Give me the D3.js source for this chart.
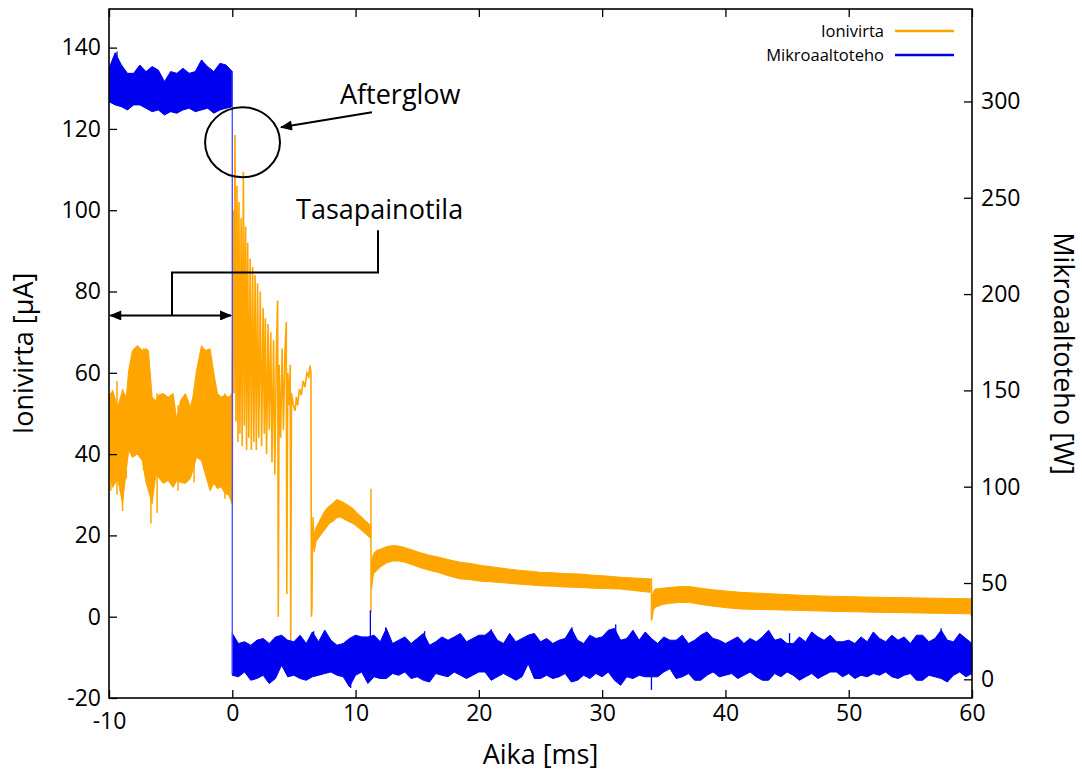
<!DOCTYPE html>
<html lang="fi">
<head>
<meta charset="utf-8">
<title>Ionivirta ja mikroaaltoteho</title>
<script src="https://cdnjs.cloudflare.com/ajax/libs/d3/7.8.5/d3.min.js"></script>
<style>
body{margin:0;background:#fff;}
svg text{font-family:"Open Sans","Noto Sans",sans-serif;fill:#000;}
</style>
</head>
<body>
<div id="chart"></div>
<script>
// tick values
var xTicks = [-10,0,10,20,30,40,50,60]
var leftTicks = [-20,0,20,40,60,80,100,120,140]
var rightTicks = [0,50,100,150,200,250,300]

// ion current before switch-off (ms, uA) : envelope of the noisy band
var orangePreT  = [-10,-9.7,-9.3,-8.9,-8.6,-8.4,-8.1,-7.7,-7.3,-7.0,-6.8,-6.5,-6.2,-6.0,-5.6,-5.2,-4.8,-4.5,-4.2,-3.8,-3.4,-3.2,-2.9,-2.5,-2.2,-1.8,-1.5,-1.2,-0.9,-0.6,-0.3,0]
var orangePreHi = [54,55.7,51.6,55.7,54,60.6,65.5,66.7,65.5,65.9,65.5,54,53.2,54.5,54.9,54,54.9,48.3,53.2,54.9,51.6,54,60.6,66.7,65.5,65.9,60,54.9,54,54.5,54,54.9]
var orangePreLo = [35.2,31.8,34,27.8,36,40.9,39.2,40,38.4,33,31,27.8,35,34.3,32.8,33.5,31.8,33.5,33,32.8,34,36,39.2,38.4,35.2,31,32.8,31.5,32,30.3,30,27.8]

// afterglow oscillation, drawn as a line
var orangeBurstT = [0,0.02,0.08,0.14,0.22,0.30,0.38,0.46,0.54,0.62,0.72,0.80,0.90,0.98,1.08,1.16,1.25,1.34,1.45,1.55,1.65,1.75,1.85,1.95,2.05,2.15,2.27,2.38,2.5,2.6,2.68,2.78,2.9,3.0,3.12,3.22,3.35,3.45,3.58,3.68,3.73,3.8,3.92,4.04,4.15,4.27,4.38,4.42,4.5,4.62,4.7,4.74,4.8,4.95,5.1,5.2,5.3,5.45,5.6,5.75,5.9,6.05,6.2,6.3,6.38,6.42,6.46,6.5]
var orangeBurstV = [27.8,60,100,55,118.5,48,106,43,102,45,98,42,109.4,47,96,41,92,44,88,41,86,43,84,41,82,44,80,42,76,45,73.4,40,72,46,70,38,68,35,66,77.8,0,62,44,66,46,65,72.5,5.6,60,52,62,-5.9,55,52,50.7,54,52,56,54.5,58,56.5,60,59,61.8,60,0,2.3,19]

// ion current decay band, null = break for a spike
var orangeBandT  = [6.5,6.55,6.65,6.8,6.95,7.15,7.4,7.65,7.9,8.2,8.45,8.7,8.95,9.2,9.5,9.8,10.1,10.5,10.8,11.1,11.22,11.25,
  11.3,11.45,11.7,12.0,12.5,13.0,13.5,14.0,14.6,15.2,16.0,16.8,17.6,18.5,19.3,20.2,21.0,21.7,22.5,23.3,24.2,25.0,26.0,27.0,28.2,29.3,30.4,31.5,32.7,33.9,34.0,
  34.05,34.15,34.3,34.9,35.5,36.3,37.1,38.0,39.0,40.1,41.2,42.6,44.0,45.3,46.6,47.8,49.0,50.5,52.0,54.0,56.0,58.0,60.0]
var orangeBandHi = [21,24.5,20,22,22.8,24,25.5,26.6,27.3,28,28.8,28.6,28.2,27.8,27.2,26.6,25.6,24.5,23.6,22.8,22.4,null,
  13.5,15.5,16.3,16.6,17.2,17.5,17.4,17.0,16.4,15.8,15.1,14.6,14.0,13.4,13.1,12.6,12.3,12.0,11.7,11.4,11.2,10.9,10.8,10.6,10.5,10.2,10.0,9.7,9.5,9.3,null,
  5.0,6.0,6.8,7.0,7.2,7.4,7.4,7.0,6.6,6.3,6.0,5.8,5.6,5.4,5.2,5.1,5.0,4.9,4.8,4.7,4.6,4.5,4.4]
var orangeBandLo = [15,18,16,18.5,19.2,20,21,22,23,23.5,24.3,24.5,24.2,23.8,23.3,22.9,22.2,21.2,20.4,19.6,19.2,null,
  7,10.5,11.3,12.2,13.2,13.7,13.7,13.4,12.8,12.1,11.4,10.8,10.0,9.3,9.1,8.7,8.6,8.4,8.2,8.0,7.8,7.6,7.5,7.3,7.2,7.0,6.9,6.8,6.4,6.0,null,
  -0.5,1.5,2.3,3.0,3.3,3.5,3.5,3.0,2.6,2.2,1.9,1.8,1.7,1.6,1.5,1.4,1.3,1.2,1.1,1.0,0.9,0.8,0.7]

// single spikes (ms, low, high)
var orangeSpikeT  = [-9.85,-9.35,-8.9,-8.6,-7.2,-6.6,-6.1,-4.4,-3.1,-0.6,-0.05,11.25,34.0,59.95]
var orangeSpikeLo = [31,30,26,34,36,22.9,25.6,31,33,29,27.8,1.0,-1.0,0]
var orangeSpikeHi = [55,58,56,54,66,40,55,52,54,55,55,31.5,9.5,4.5]

// microwave power (W), sampled every 0.5 ms
var bluePreStart = -10
var bluePreHi = [317.2,325.3,319,314.6,314.6,318.9,315.5,318.1,316.3,310.3,315.5,314.6,317.2,314.6,315.5,321.5,318.1,315.5,319.8,318.9,315.5]
var bluePreLo = [299.9,298.2,297.3,295.6,298.2,298.2,296.5,294.7,295.6,293.0,294.7,293.9,295.6,296.5,294.7,295.6,296.5,293.9,295.6,296.5,297.3]
var bluePostStart = 0
var bluePostHi = [23.8,18.6,19.5,17.7,20.3,21.2,18.6,22.0,22.9,20.3,
  19.5,22.9,18.6,24.6,19.5,25.5,20.3,17.7,18.6,21.2,
  22.9,22.0,22.0,22.9,19.5,26.4,18.6,20.3,22.0,18.6,
  21.2,23.8,17.7,19.5,22.0,20.3,22.0,23.8,19.5,21.2,
  22.9,22.9,25.5,20.3,18.6,23.8,19.5,21.2,22.9,23.8,
  19.5,21.2,18.6,20.3,21.2,26.4,20.3,18.6,22.9,21.2,
  22.0,25.5,26.4,20.3,21.2,25.5,20.3,
  24.6,21.2,18.6,22.0,20.3,20.3,22.9,18.6,20.3,22.9,
  24.6,21.2,20.3,18.6,20.3,22.0,18.6,21.2,19.5,22.0,
  25.5,20.3,21.2,18.6,18.6,22.0,19.5,24.6,22.0,20.3,
  22.9,19.5,19.5,20.3,18.6,22.0,19.5,24.6,21.2,19.5,
  22.9,20.3,22.0,18.6,22.9,22.9,19.5,21.2,25.5,20.3,
  19.5,23.8,21.2,18.6]
var bluePostLo = [2.1,1.3,3.8,-0.5,0.4,2.1,-2.2,0.4,7.3,1.3,
  2.1,0.4,-0.5,1.3,2.1,3.0,3.8,2.1,1.3,-3.9,
  2.1,3.8,-2.2,1.3,0.4,0.4,3.0,2.1,3.8,0.4,
  1.3,-0.5,-1.4,3.0,2.1,1.3,3.8,2.1,0.4,2.1,
  3.8,3.8,-0.5,1.3,3.0,1.3,-0.5,1.3,8.1,0.4,
  0.4,2.1,0.4,1.3,3.0,-1.4,-0.5,2.1,0.4,3.0,
  1.3,3.8,-0.5,-3.1,1.3,0.4,2.1,
  1.3,1.3,1.3,3.8,5.5,0.4,1.3,3.0,-0.5,-0.5,
  2.1,3.8,1.3,2.1,3.0,0.4,2.1,3.8,1.3,-0.5,
  -0.5,3.0,1.3,3.8,2.1,-0.5,1.3,3.0,0.4,2.1,
  3.8,3.8,1.3,3.0,0.4,2.1,1.3,3.0,2.1,3.8,
  1.3,0.4,2.1,3.0,-0.5,-0.5,2.1,1.3,0.4,-1.4,
  2.1,3.8,1.3,3.0]
var blueDropT = [0,0]
var blueDropW = [315.5,3.1]
var blueSpikeT  = [-9.35,-2.45,6.6,7.5,9.6,11.2,12.45,15.6,21.0,27.55,31.1,34.0,45.2,57.5]
var blueSpikeLo = [300,300,5,5,-4.5,5,10,5,5,5,10,-5.5,5,8]
var blueSpikeHi = [326,321.5,25,25.5,10,35.8,27,25,26,27,28.5,15,24,26.5]

var W = 1082, H = 773
var pLeft = 109, pRight = 972, pTop = 9, pBottom = 698
var orange = "#ffa500", blue = "#0000f0"

var x = d3.scaleLinear().domain([-10,60]).range([pLeft,pRight])
var yL = d3.scaleLinear().domain([-20,149.5]).range([pBottom,pTop])
var yR = d3.scaleLinear().domain([-9.7,348]).range([pBottom,pTop])

var svg = d3.select("#chart").append("svg")
  .attr("width",W).attr("height",H)

var defs = svg.append("defs")
defs.append("clipPath").attr("id","plotclip")
  .append("rect").attr("x",pLeft).attr("y",pTop).attr("width",pRight-pLeft).attr("height",pBottom-pTop)
defs.append("marker").attr("id","head").attr("viewBox","0 0 12 10")
  .attr("refX",11).attr("refY",5).attr("markerWidth",13).attr("markerHeight",10)
  .attr("markerUnits","userSpaceOnUse").attr("orient","auto-start-reverse")
  .append("path").attr("d","M0,0L12,5L0,10z").attr("fill","#000")

var plot = svg.append("g").attr("clip-path","url(#plotclip)")

function band(t,hi,lo){
  var rows = []
  for(var i=0;i<t.length;i++){ rows.push({t:t[i],hi:hi[i],lo:lo[i]}) }
  return rows
}
function stepped(start,hi,lo){
  var rows = []
  for(var i=0;i<hi.length;i++){ rows.push({t:start+i*0.5,hi:hi[i],lo:lo[i]}) }
  return rows
}

// ---- ion current (left axis) ----
var areaL = d3.area().defined(function(d){return d.hi!=null})
  .x(function(d){return x(d.t)}).y0(function(d){return yL(d.lo)}).y1(function(d){return yL(d.hi)})

plot.append("path").datum(band(orangePreT,orangePreHi,orangePreLo))
  .attr("d",areaL).attr("fill",orange).attr("stroke",orange).attr("stroke-width",1)
plot.append("path").datum(band(orangeBandT,orangeBandHi,orangeBandLo))
  .attr("d",areaL).attr("fill",orange).attr("stroke",orange).attr("stroke-width",1)

var burst = orangeBurstT.map(function(t,i){return {t:t,v:orangeBurstV[i]}})
plot.append("path").datum(burst)
  .attr("d",d3.line().x(function(d){return x(d.t)}).y(function(d){return yL(d.v)}))
  .attr("fill","none").attr("stroke",orange).attr("stroke-width",1.6).attr("stroke-linejoin","miter")

plot.selectAll(".ospike").data(orangeSpikeT).enter().append("line")
  .attr("x1",function(d){return x(d)}).attr("x2",function(d){return x(d)})
  .attr("y1",function(d,i){return yL(orangeSpikeLo[i])}).attr("y2",function(d,i){return yL(orangeSpikeHi[i])})
  .attr("stroke",orange).attr("stroke-width",1.5)

// ---- microwave power (right axis) ----
var areaR = d3.area()
  .x(function(d){return x(d.t)}).y0(function(d){return yR(d.lo)}).y1(function(d){return yR(d.hi)})

plot.append("path").datum(stepped(bluePreStart,bluePreHi,bluePreLo))
  .attr("d",areaR).attr("fill",blue).attr("stroke",blue).attr("stroke-width",1)
plot.append("path").datum(stepped(bluePostStart,bluePostHi,bluePostLo))
  .attr("d",areaR).attr("fill",blue).attr("stroke",blue).attr("stroke-width",1)

plot.append("line")
  .attr("x1",x(blueDropT[0])).attr("x2",x(blueDropT[1]))
  .attr("y1",yR(blueDropW[0])).attr("y2",yR(blueDropW[1]))
  .attr("stroke","#4848ff").attr("stroke-width",1.3)

plot.selectAll(".bspike").data(blueSpikeT).enter().append("line")
  .attr("x1",function(d){return x(d)}).attr("x2",function(d){return x(d)})
  .attr("y1",function(d,i){return yR(blueSpikeLo[i])}).attr("y2",function(d,i){return yR(blueSpikeHi[i])})
  .attr("stroke",blue).attr("stroke-width",1.3)

// ---- axes, ticks pointing in ----
var plain = function(d){return String(d)}
var gx = svg.append("g").attr("transform","translate(0,"+pBottom+")")
  .call(d3.axisBottom(x).tickValues(xTicks).tickFormat(plain).tickSizeInner(-8).tickSizeOuter(0).tickPadding(7))
var gxt = svg.append("g").attr("transform","translate(0,"+pTop+")")
  .call(d3.axisTop(x).tickValues(xTicks).tickSizeInner(-8).tickSizeOuter(0).tickFormat(""))
var gl = svg.append("g").attr("transform","translate("+pLeft+",0)")
  .call(d3.axisLeft(yL).tickValues(leftTicks).tickFormat(plain).tickSizeInner(-8).tickSizeOuter(0).tickPadding(8))
var gr = svg.append("g").attr("transform","translate("+pRight+",0)")
  .call(d3.axisRight(yR).tickValues(rightTicks).tickFormat(plain).tickSizeInner(-8).tickSizeOuter(0).tickPadding(9))

;[gx,gxt,gl,gr].forEach(function(g){
  g.select(".domain").remove()
  g.selectAll(".tick line").attr("stroke","#000").attr("stroke-width",1.3)
  g.selectAll("text").attr("font-size",23).attr("font-family",null)
})
// the -10 label sits a bit lower in the original
gx.selectAll(".tick text").filter(function(d){return d==-10}).attr("dy","1.05em")

svg.append("rect").attr("x",pLeft).attr("y",pTop).attr("width",pRight-pLeft).attr("height",pBottom-pTop)
  .attr("fill","none").attr("stroke","#000").attr("stroke-width",1.6)

// axis titles
svg.append("text").attr("x",(pLeft+pRight)/2).attr("y",764).attr("text-anchor","middle")
  .attr("font-size",27).text("Aika [ms]")
svg.append("text").attr("transform","translate(33,"+((pTop+pBottom)/2)+") rotate(-90)")
  .attr("text-anchor","middle").attr("font-size",27).text("Ionivirta [µA]")
svg.append("text").attr("transform","translate(1054,"+((pTop+pBottom)/2)+") rotate(90)")
  .attr("text-anchor","middle").attr("font-size",27).text("Mikroaaltoteho [W]")

// legend
var legend = [{name:"Ionivirta",color:orange,y:31},{name:"Mikroaaltoteho",color:blue,y:55}]
legend.forEach(function(l){
  svg.append("text").attr("x",884).attr("y",l.y+6).attr("text-anchor","end")
    .attr("font-size",16.5).text(l.name)
  svg.append("line").attr("x1",895).attr("x2",954).attr("y1",l.y).attr("y2",l.y)
    .attr("stroke",l.color).attr("stroke-width",2.5)
})

// annotations, placed in data units
var glowCircle = {t:0.83,v:116.7,rt:3.04,rv:8.6}
svg.append("ellipse").attr("cx",x(glowCircle.t)).attr("cy",yL(glowCircle.v))
  .attr("rx",x(glowCircle.t+glowCircle.rt)-x(glowCircle.t))
  .attr("ry",yL(glowCircle.v-glowCircle.rv)-yL(glowCircle.v))
  .attr("fill","none").attr("stroke","#000").attr("stroke-width",2)
svg.append("line").attr("x1",x(11.33)).attr("y1",yL(124.1)).attr("x2",x(3.95)).attr("y2",yL(120.4))
  .attr("stroke","#000").attr("stroke-width",2).attr("marker-end","url(#head)")
svg.append("text").attr("x",x(8.73)).attr("y",yL(126.1)).attr("font-size",27).text("Afterglow")

svg.append("text").attr("x",x(5.17)).attr("y",yL(97.8)).attr("font-size",27).text("Tasapainotila")
var bracket = [[11.82,95.1],[11.82,84.7],[-4.89,84.7],[-4.89,74.1]]
svg.append("path")
  .attr("d",d3.line().x(function(d){return x(d[0])}).y(function(d){return yL(d[1])})(bracket))
  .attr("fill","none").attr("stroke","#000").attr("stroke-width",2)
svg.append("line").attr("x1",x(-9.9)).attr("y1",yL(74.1)).attr("x2",x(-0.1)).attr("y2",yL(74.1))
  .attr("stroke","#000").attr("stroke-width",2)
  .attr("marker-start","url(#head)").attr("marker-end","url(#head)")
</script>
</body>
</html>
